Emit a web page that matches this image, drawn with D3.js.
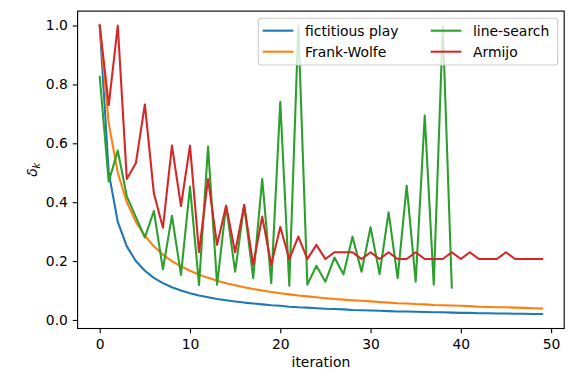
<!DOCTYPE html>
<html><head><meta charset="utf-8">
<script src="https://cdn.jsdelivr.net/npm/d3@7/dist/d3.min.js"></script>
<style>
html,body{margin:0;padding:0;background:#fff;}
svg{display:block;font-family:"DejaVu Sans",sans-serif;}
</style></head>
<body>
<svg id="chart" width="572" height="371"></svg>
<script>
const fictitiousPlay = [1.0, 0.5, 0.333, 0.25, 0.2, 0.167, 0.143, 0.125, 0.111, 0.1, 0.091, 0.083, 0.077, 0.071, 0.067, 0.063, 0.059, 0.056, 0.053, 0.05, 0.048, 0.045, 0.043, 0.042, 0.04, 0.038, 0.037, 0.036, 0.034, 0.033, 0.032, 0.031, 0.03, 0.029, 0.029, 0.028, 0.027, 0.026, 0.026, 0.025, 0.024, 0.024, 0.023, 0.023, 0.022, 0.022, 0.021, 0.021, 0.02, 0.02];
const frankWolfe = [1.0, 0.667, 0.5, 0.4, 0.333, 0.286, 0.25, 0.222, 0.2, 0.182, 0.167, 0.154, 0.143, 0.133, 0.125, 0.118, 0.111, 0.105, 0.1, 0.095, 0.091, 0.087, 0.083, 0.08, 0.077, 0.074, 0.071, 0.069, 0.067, 0.065, 0.063, 0.061, 0.059, 0.057, 0.056, 0.054, 0.053, 0.051, 0.05, 0.049, 0.048, 0.047, 0.045, 0.044, 0.043, 0.043, 0.042, 0.041, 0.04, 0.039];
const lineSearch = [0.826, 0.47, 0.575, 0.42, 0.35, 0.28, 0.37, 0.172, 0.354, 0.153, 0.453, 0.119, 0.589, 0.12, 0.388, 0.164, 0.39, 0.142, 0.479, 0.125, 0.741, 0.116, 1.0, 0.12, 0.184, 0.13, 0.212, 0.155, 0.283, 0.164, 0.315, 0.156, 0.366, 0.142, 0.456, 0.13, 0.694, 0.12, 1.0, 0.11];
const armijo = [1.0, 0.73, 1.0, 0.479, 0.532, 0.732, 0.43, 0.313, 0.592, 0.387, 0.592, 0.23, 0.479, 0.255, 0.388, 0.23, 0.39, 0.187, 0.351, 0.187, 0.316, 0.207, 0.283, 0.207, 0.255, 0.207, 0.23, 0.23, 0.23, 0.207, 0.23, 0.207, 0.23, 0.207, 0.207, 0.23, 0.207, 0.207, 0.207, 0.23, 0.207, 0.23, 0.207, 0.207, 0.207, 0.23, 0.207, 0.207, 0.207, 0.207];
const seriesNames = ["fictitious play", "Frank-Wolfe", "line-search", "Armijo"];
const seriesColors = ["#1f77b4", "#ff7f0e", "#2ca02c", "#d62728"];
const xTicks = [0, 10, 20, 30, 40, 50];
const yTicks = [0.0, 0.2, 0.4, 0.6, 0.8, 1.0];
const xLabel = "iteration";

const series = [fictitiousPlay, frankWolfe, lineSearch, armijo];
const svg = d3.select("#chart");
const L = 77.6, R = 564.2, T = 11.1, B = 328.5;

const xs = d3.scaleLinear().domain([-2.45, 51.45]).range([L, R]);
const yMin = 0.02, yMax = 1.0, pad = (yMax - yMin) * 0.05;
const ys = d3.scaleLinear().domain([yMin - pad, yMax + pad]).range([B, T]);

const fontPx = 13.9;
const lineGen = d3.line().x((d, i) => xs(i)).y(d => ys(d));

const plot = svg.append("g");
series.forEach((s, i) => {
  plot.append("path").datum(s)
    .attr("d", lineGen)
    .attr("fill", "none")
    .attr("stroke", seriesColors[i])
    .attr("stroke-width", 2.08)
    .attr("stroke-linejoin", "round")
    .attr("stroke-linecap", "square");
});

// axes
const xAxis = d3.axisBottom(xs).tickValues(xTicks).tickFormat(d3.format("d")).tickSizeInner(4.86).tickSizeOuter(0).tickPadding(4.86);
const yAxis = d3.axisLeft(ys).tickValues(yTicks).tickFormat(d3.format(".1f")).tickSizeInner(4.86).tickSizeOuter(0).tickPadding(4.86);
const gx = svg.append("g").attr("transform", `translate(0,${B})`).call(xAxis);
const gy = svg.append("g").attr("transform", `translate(${L},0)`).call(yAxis);
[gx, gy].forEach(g => {
  g.select(".domain").remove();
  g.selectAll(".tick line").attr("stroke", "#000").attr("stroke-width", 1.1);
  g.selectAll(".tick text").attr("fill", "#000").attr("font-size", fontPx).attr("font-family", "DejaVu Sans");
});
gx.selectAll(".tick text").attr("dy", "0.78em");

// frame
svg.append("rect").attr("x", L).attr("y", T).attr("width", R - L).attr("height", B - T)
  .attr("fill", "none").attr("stroke", "#000").attr("stroke-width", 1.1);

// labels
svg.append("text").attr("x", (L + R) / 2).attr("y", 366.5).attr("text-anchor", "middle")
  .attr("font-size", fontPx).attr("fill", "#000").text(xLabel);
const yl = svg.append("text").attr("transform", `translate(37,${(T + B) / 2}) rotate(-90)`)
  .attr("text-anchor", "middle").attr("font-size", fontPx).attr("fill", "#000");
yl.append("tspan").attr("font-style", "italic").text("δ");
yl.append("tspan").attr("font-style", "italic").attr("font-size", fontPx * 0.7).attr("dy", 3).text("k");

// legend
const lg = svg.append("g");
lg.append("rect").attr("x", 258.3).attr("y", 18.3).attr("width", 299.4).attr("height", 46.7)
  .attr("rx", 2.8).attr("fill", "#fff").attr("fill-opacity", 0.8)
  .attr("stroke", "#cccccc").attr("stroke-width", 1.1);
const colX = [262.7, 430.7];
const rowY = [30.7, 51.7];
series.forEach((s, i) => {
  const c = Math.floor(i / 2), r = i % 2;
  lg.append("line").attr("x1", colX[c]).attr("x2", colX[c] + 30.6)
    .attr("y1", rowY[r]).attr("y2", rowY[r])
    .attr("stroke", seriesColors[i]).attr("stroke-width", 2.08);
  lg.append("text").attr("x", colX[c] + 42.3).attr("y", rowY[r] + 4.9)
    .attr("font-size", fontPx).attr("fill", "#000").text(seriesNames[i]);
});
</script>
</body></html>
